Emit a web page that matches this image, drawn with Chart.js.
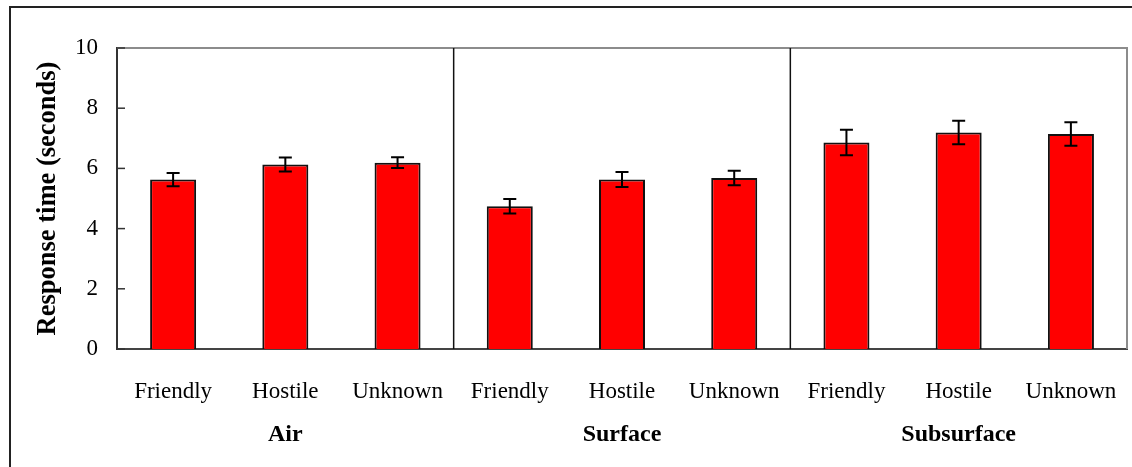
<!DOCTYPE html>
<html>
<head>
<meta charset="utf-8">
<script src="https://cdn.jsdelivr.net/npm/chart.js@4.4.1/dist/chart.umd.min.js"></script>
<style>
  html, body { margin: 0; padding: 0; background: #fff; }
  #wrap { width: 1132px; height: 467px; position: relative; }
</style>
</head>
<body>
<div id="wrap"><canvas id="rtChart" width="1132" height="467"></canvas></div>
<script>
// categories and groups
const contacts = ['Friendly', 'Hostile', 'Unknown', 'Friendly', 'Hostile', 'Unknown', 'Friendly', 'Hostile', 'Unknown'];
const domains = ['Air', 'Surface', 'Subsurface'];
// mean response time (s) and standard error
const meanTimes = [5.63, 6.13, 6.19, 4.74, 5.63, 5.68, 6.86, 7.19, 7.14];
const stdErrors = [0.22, 0.23, 0.18, 0.24, 0.25, 0.24, 0.42, 0.39, 0.39];
const yTicks = [0, 2, 4, 6, 8, 10];

const serif = '"Liberation Serif", "Times New Roman", serif';

const decorations = {
  id: 'decorations',
  beforeDraw(chart) {
    const ctx = chart.ctx;
    // outer frame (left and top edges)
    ctx.save();
    ctx.strokeStyle = '#222';
    ctx.lineWidth = 2;
    ctx.beginPath();
    ctx.moveTo(10, chart.height);
    ctx.lineTo(10, 7);
    ctx.lineTo(chart.width, 7);
    ctx.stroke();
    ctx.restore();
  },
  afterDatasetsDraw(chart) {
    const ctx = chart.ctx;
    const area = chart.chartArea;
    const x = chart.scales.x;
    const y = chart.scales.y;
    ctx.save();

    // plot area top/right border
    ctx.strokeStyle = '#8c8c8c';
    ctx.lineWidth = 2;
    ctx.beginPath();
    ctx.moveTo(area.left, area.top);
    ctx.lineTo(area.right, area.top);
    ctx.lineTo(area.right, area.bottom);
    ctx.stroke();

    // group dividers
    ctx.strokeStyle = '#111';
    ctx.lineWidth = 1.5;
    [2, 5].forEach(i => {
      const px = (x.getPixelForValue(i) + x.getPixelForValue(i + 1)) / 2;
      ctx.beginPath();
      ctx.moveTo(px, area.top);
      ctx.lineTo(px, area.bottom);
      ctx.stroke();
    });

    // inward ticks on y axis
    ctx.strokeStyle = '#333';
    ctx.lineWidth = 1.5;
    yTicks.forEach(v => {
      const py = y.getPixelForValue(v);
      ctx.beginPath();
      ctx.moveTo(area.left, py);
      ctx.lineTo(area.left + 8, py);
      ctx.stroke();
    });

    // error bars
    ctx.strokeStyle = '#000';
    ctx.lineWidth = 2;
    meanTimes.forEach((m, i) => {
      const px = x.getPixelForValue(i);
      const top = y.getPixelForValue(m + stdErrors[i]);
      const bot = y.getPixelForValue(m - stdErrors[i]);
      ctx.beginPath();
      ctx.moveTo(px, top);
      ctx.lineTo(px, bot);
      ctx.moveTo(px - 6.5, top);
      ctx.lineTo(px + 6.5, top);
      ctx.moveTo(px - 6.5, bot);
      ctx.lineTo(px + 6.5, bot);
      ctx.stroke();
    });

    // group labels under the categories
    ctx.fillStyle = '#000';
    ctx.font = 'bold 24px ' + serif;
    ctx.textAlign = 'center';
    ctx.textBaseline = 'middle';
    domains.forEach((d, g) => {
      const px = x.getPixelForValue(g * 3 + 1);
      ctx.fillText(d, px, area.bottom + 86);
    });
    ctx.restore();
  }
};

new Chart(document.getElementById('rtChart'), {
  type: 'bar',
  data: {
    labels: contacts,
    datasets: [{
      data: meanTimes,
      backgroundColor: '#ff0000',
      borderColor: '#111',
      borderWidth: 2,
      borderSkipped: 'bottom',
      barPercentage: 0.41,
      categoryPercentage: 1
    }]
  },
  options: {
    responsive: false,
    animation: false,
    devicePixelRatio: 1,
    layout: { padding: { left: 0, top: 48, right: 5, bottom: 0 } },
    plugins: {
      legend: { display: false },
      tooltip: { enabled: false }
    },
    scales: {
      x: {
        grid: { display: false, drawTicks: false },
        border: { display: true, color: '#444', width: 2 },
        ticks: {
          color: '#000',
          font: { family: serif, size: 23 },
          padding: 29,
          maxRotation: 0,
          autoSkip: false
        },
        afterFit(scale) {
          scale.height = 118;
          scale.paddingLeft = 0;
          scale.paddingRight = 0;
        }
      },
      y: {
        min: 0,
        max: 10,
        grid: { display: false, drawTicks: false },
        border: { display: true, color: '#333', width: 2 },
        afterBuildTicks(scale) { scale.ticks = yTicks.map(v => ({ value: v })); },
        ticks: {
          color: '#000',
          font: { family: serif, size: 23 },
          padding: 19
        },
        title: {
          display: true,
          text: 'Response time (seconds)',
          color: '#000',
          font: { family: serif, size: 26.5, weight: 'bold' },
          padding: { top: 32, bottom: 0 }
        },
        afterFit(scale) { scale.width = 117; }
      }
    }
  },
  plugins: [decorations]
});
</script>
</body>
</html>
